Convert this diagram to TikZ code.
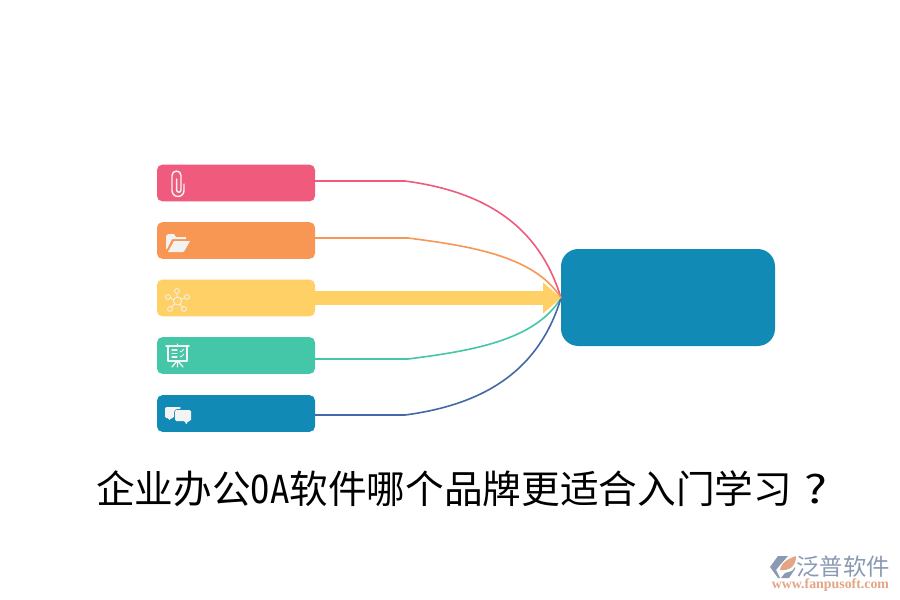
\documentclass[tikz,border=0pt]{standalone}
\usepackage{fontspec}
\setmainfont{Liberation Serif}
\newfontfamily\cjk{Noto Sans CJK SC}
\newfontfamily\monolat{DejaVu Sans Mono}
\usetikzlibrary{arrows.meta}
\definecolor{cpink}{HTML}{F05A7C}
\definecolor{corange}{HTML}{F89653}
\definecolor{cyellow}{HTML}{FFD066}
\definecolor{cgreen}{HTML}{44C6A8}
\definecolor{cblue}{HTML}{118AB5}
\definecolor{cnavy}{HTML}{4468A8}
\definecolor{iconw}{HTML}{F3F3F3}
\definecolor{logog}{HTML}{8A9AB3}
\definecolor{logoo}{HTML}{E3A583}
\tikzset{
  x=0.75pt,y=-0.75pt,
  bar/.style={minimum width=118.5pt,minimum height=27.5pt,inner sep=0pt,rounded corners=4pt,anchor=center},
  hubbox/.style={fill=cblue,minimum width=160.5pt,minimum height=72.75pt,inner sep=0pt,rounded corners=13pt},
  link/.style={line width=1.2pt},
  icon/.style={draw=iconw,line width=0.9pt,line cap=round,line join=round,fill=none},
  iconfill/.style={fill=iconw,draw=none},
}
\begin{document}
\begin{tikzpicture}
\useasboundingbox (0,0) rectangle (900,600);
\fill[white] (0,0) rectangle (900,600);
\node[bar,fill=cpink] (a) at (236,183) {};
\node[bar,fill=corange] (b) at (236,240.5) {};
\node[bar,fill=cyellow] (c) at (236,298) {};
\node[bar,fill=cgreen] (d) at (236,355.5) {};
\node[bar,fill=cblue] (e) at (236,413.5) {};
\node[hubbox] (hub) at (668,297.5) {};
\coordinate (ha) at (561,298);
\coordinate (ae) at (315,181);
\coordinate (be) at (315,238);
\coordinate (de) at (315,359);
\coordinate (ee) at (315,415);
\draw[link,draw=cpink] (ae) -- (405,181) .. controls (480,191) and (538,222) .. (ha);
\draw[link,draw=corange] (be) -- (408,238) .. controls (470,246) and (535,256) .. (ha);
\draw[link,draw=cgreen] (de) -- (408,359) .. controls (470,351) and (535,341) .. (ha);
\draw[link,draw=cnavy] (ee) -- (405,415) .. controls (480,405) and (538,374) .. (ha);
\draw[line width=11pt,draw=cyellow,-{Triangle[length=13.5pt,width=22.5pt]}] (c.east) -- (ha);
% paperclip
\draw[icon,line width=1.1pt] (184,184) -- (184,190.5) arc[start angle=0,end angle=180,radius=6] -- (172,175.5) arc[start angle=180,end angle=360,radius=4.5] -- (181,190) arc[start angle=0,end angle=180,radius=2.2] -- (176.6,179);
% folder
\fill[iconfill] (166,249) -- (166,236) -- (168,234) -- (174,234) -- (176,237) -- (186,237) -- (186,239) -- (172,239) -- (167,249) -- cycle;
\fill[iconfill] (168,252) -- (174,241) -- (190,241) -- (185,250) -- (183,252) -- cycle;
% network
\draw[icon,line width=0.6pt] (177,301) -- (177,291) (177,301) -- (187,297) (177,301) -- (184,309) (177,301) -- (170,309) (177,301) -- (168,297);
\foreach \p in {(177,291),(187,297),(184,309),(170,309),(168,297)}
  \draw[icon,line width=0.6pt,fill=cyellow] \p circle (2.4);
\draw[icon,line width=0.6pt,fill=cyellow] (177.5,301) circle (4);
% board
\draw[icon,line width=1pt] (166,346) -- (189,346) (168,346) -- (168,361) -- (187,361) -- (187,346);
\draw[icon,line width=1pt] (177.5,344) -- (177.5,346) (177.5,361) -- (177.5,367) (177,361) -- (172,367) (178,361) -- (183,367);
\draw[icon,line width=0.8pt] (172,350) -- (177,350) (172,353.5) -- (177,353.5) (172,357) -- (177,357);
\draw[icon,line width=0.7pt] (180,351) -- (181,352) -- (184,349) (180,356) -- (181,357) -- (184,354);
% chat
\fill[iconfill,rounded corners=1pt] (165,407) -- (181,407) -- (181,409) -- (176,409) -- (174,411) -- (174,418) -- (171,418) -- (169,421) -- (169,418) -- (165,418) -- cycle;
\fill[iconfill,rounded corners=1pt] (175,410) -- (191,410) -- (191,421) -- (188,421) -- (186,425) -- (185,421) -- (175,421) -- cycle;
% title
\node[inner sep=0pt,anchor=west,font=\cjk\fontsize{29pt}{30pt}\selectfont] (title) at (96,488.5) {企业办公\makebox[1em][c]{\scalebox{0.83}[1]{\monolat OA}}软件哪个品牌更适合入门学习\makebox[1em][c]{\hspace{0.2em}\scalebox{1.25}[1]{?}}};
% logo
\fill[logog] (770,567) -- (778,556) -- (788,556) -- (780,565) -- (776,570) -- (780,578) -- (778,578) -- cycle;
\fill[logoo] (780,570) .. controls (781,562) and (790,558) .. (796,556) .. controls (796,566) and (790,571) .. (780,570) -- cycle;
\fill[logog] (781,578) -- (785,573) -- (792,571) -- (795,567) -- (795,569) -- (789,578) -- cycle;
\node[inner sep=0pt,text=logog,font=\cjk\fontsize{17.5pt}{18pt}\selectfont] (logoa) at (843,567) {泛普软件};
\node[inner sep=0pt,text=logoo,font=\fontsize{10.4pt}{11pt}\selectfont\bfseries] (logob) at (830.5,585) {www.fanpusoft.com};
\end{tikzpicture}
\end{document}
